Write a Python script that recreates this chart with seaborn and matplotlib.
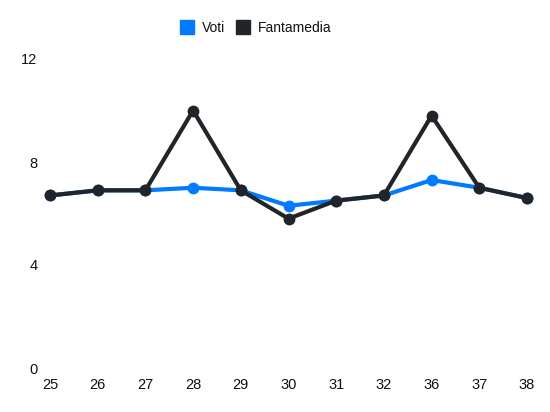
import numpy as np
import pandas as pd
import matplotlib
matplotlib.use("Agg")
import matplotlib.pyplot as plt
from matplotlib.lines import Line2D
import seaborn as sns

# data
giornate = ['25', '26', '27', '28', '29', '30', '31', '32', '36', '37', '38']
voti = [6.7, 6.9, 6.9, 7.0, 6.9, 6.3, 6.5, 6.7, 7.3, 7.0, 6.6]
fantamedia = [6.7, 6.9, 6.9, 10.0, 6.9, 5.8, 6.5, 6.7, 9.8, 7.0, 6.6]

blue = '#007bff'
dark = '#212529'

df = pd.DataFrame({
    'Giornata': giornate * 2,
    'Valore': voti + fantamedia,
    'Serie': ['Voti'] * len(voti) + ['Fantamedia'] * len(fantamedia),
})

sns.set_theme(style='white')
plt.rcParams['font.family'] = ['Liberation Sans', 'DejaVu Sans']

fig = plt.figure(figsize=(5.5, 4.12), dpi=100)
ax = fig.add_axes([50 / 550, 1 - 368 / 412, 477 / 550, 309 / 412])

sns.lineplot(data=df, x='Giornata', y='Valore', hue='Serie',
             palette={'Voti': blue, 'Fantamedia': dark},
             hue_order=['Voti', 'Fantamedia'],
             marker='o', markersize=8.5, markeredgewidth=0,
             linewidth=3, sort=False, legend=False, ax=ax)
for ln in ax.lines:
    ln.set_clip_on(False)

ax.set_xlim(0, len(giornate) - 1)
ax.set_ylim(0, 12)
ax.set_yticks([0, 4, 8, 12])
ax.set_xlabel('')
ax.set_ylabel('')
for s in ax.spines.values():
    s.set_visible(False)
ax.grid(False)
ax.tick_params(axis='y', length=0, pad=9, labelsize=10.5, labelcolor='#111111')
ax.tick_params(axis='x', length=0, pad=7, labelsize=10.5, labelcolor='#111111')

handles = [
    Line2D([], [], marker='s', color=blue, linestyle='none', markersize=9.5),
    Line2D([], [], marker='s', color=dark, linestyle='none', markersize=9.5),
]
fig.legend(handles, ['Voti', 'Fantamedia'], loc='center', ncol=2,
           bbox_to_anchor=(256 / 550, 1 - 28 / 412), frameon=False,
           fontsize=10, handletextpad=0.55, columnspacing=0.85,
           handlelength=0.95, labelcolor='#111111')

fig.savefig('out.png', dpi=100)
